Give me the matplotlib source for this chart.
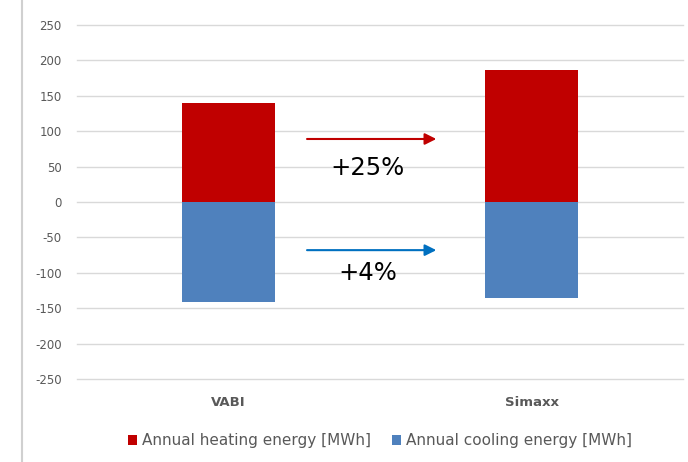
import matplotlib.pyplot as plt
import numpy as np

plt.rcParams['axes.unicode_minus'] = False

# values (MWh)
tools = ['VABI', 'Simaxx']
heating = [140, 187]
cooling = [-141, -136]
changes = ['+25%', '+4%']

fig = plt.figure(figsize=(6.88, 4.62), dpi=100)
ax = fig.add_axes([77/688, 1-379/462, 606/688, 354/462])

x = np.arange(len(tools))
w = 0.31
ax.bar(x, heating, w, color='#C00000', label='Annual heating energy [MWh]', zorder=2)
ax.bar(x, cooling, w, color='#4F81BD', label='Annual cooling energy [MWh]', zorder=2)

ax.set_xlim(-0.5, 1.5)
ax.set_ylim(-250, 250)
ax.set_yticks(np.arange(-250, 251, 50))
ax.yaxis.grid(True, color='#d9d9d9', lw=1, zorder=0)
for gl in ax.get_ygridlines():
    gl.set_clip_on(False)
for s in ax.spines.values():
    s.set_visible(False)
ax.tick_params(axis='y', length=0, labelsize=8.5, labelcolor='#595959', pad=11)
ax.tick_params(axis='x', length=0, labelsize=9.5, labelcolor='#595959', pad=12)
ax.set_xticks(x)
ax.set_xticklabels(tools, fontweight='bold')

# arrows with percentage change between the tools
arrow_y = [89, -68]
text_y = [48, -100]
arrow_cols = ['#C00000', '#0070C0']
for yy, ty, col, txt in zip(arrow_y, text_y, arrow_cols, changes):
    ax.annotate('', xy=(0.695, yy), xytext=(0.25, yy),
                arrowprops=dict(arrowstyle='-|>', color=col, lw=1.5,
                                mutation_scale=17))
    ax.text(0.46, ty, txt, ha='center', va='center', fontsize=17.5,
            color='black')

# chart area left border
fig.add_artist(plt.Line2D([22/688, 22/688], [0, 1], color='#d0d0d0', lw=1.5))

ax.legend(loc='upper center', bbox_to_anchor=(0.5, -0.115), ncol=2,
          frameon=False, fontsize=11, labelcolor='#595959',
          handlelength=0.6, handleheight=0.6, handletextpad=0.3,
          columnspacing=1.4)

fig.savefig('out.png', dpi=100)
